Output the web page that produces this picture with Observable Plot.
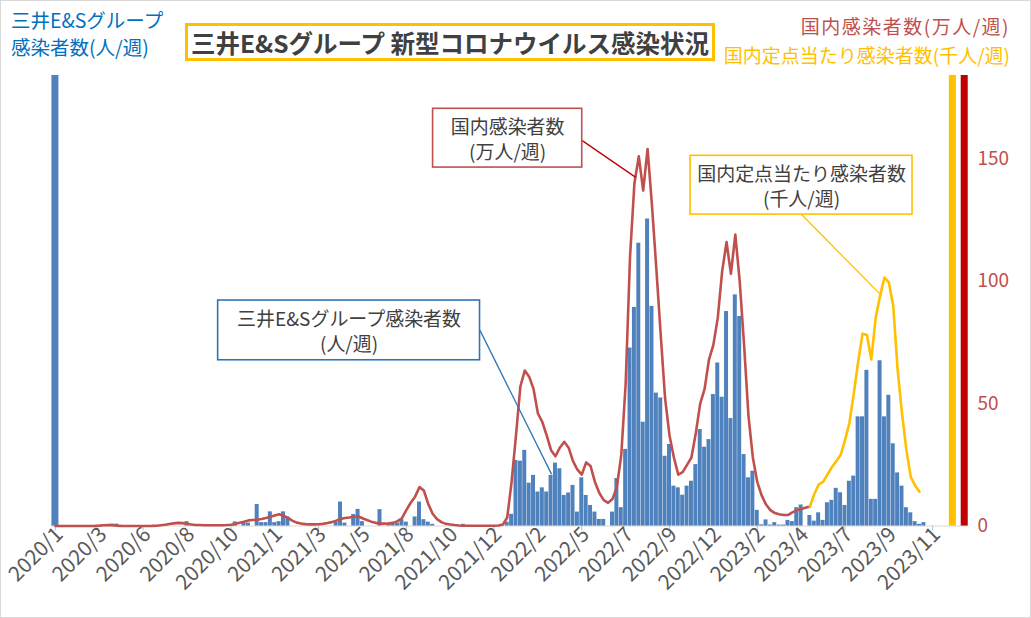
<!DOCTYPE html>
<html>
<head>
<meta charset="utf-8">
<script src="https://cdn.jsdelivr.net/npm/d3@7"></script>
<script src="https://cdn.jsdelivr.net/npm/@observablehq/plot@0.6"></script>
<style>
  html, body { margin: 0; padding: 0; background: #fff; }
  body { font-family: "Noto Sans CJK JP", "Noto Sans", sans-serif; }
  #wrap { position: relative; width: 1031px; height: 618px; box-sizing: border-box; border: 1px solid #d9d9d9; overflow: hidden; background: #fff; }
  #lt { position: absolute; left: 10px; top: 5px; font-size: 19.5px; line-height: 27px; color: #0070c0; white-space: nowrap; }
  #title { position: absolute; left: 184px; top: 22px; width: 530px; height: 38px; box-sizing: border-box; border: 3px solid #ffc000; display: flex; align-items: center; justify-content: center; font-size: 24.5px; font-weight: bold; color: #404040; white-space: nowrap; }
  #rt { position: absolute; right: 20px; top: 10px; font-size: 19px; line-height: 29px; text-align: right; white-space: nowrap; }
  #chart { position: absolute; left: -1px; top: 69px; }
</style>
</head>
<body>
<div id="wrap">
  <div id="lt">三井E&amp;Sグループ<br>感染者数(人/週)</div>
  <div id="title">三井E&amp;Sグループ 新型コロナウイルス感染状況</div>
  <div id="rt"><span style="color:#c0504d;letter-spacing:1.5px">国内感染者数(万人/週)</span><br><span style="color:#ffc000">国内定点当たり感染者数(千人/週)</span></div>
  <div id="chart"></div>
</div>
<script>
// x-axis labels, one every 10 weeks starting at week 0 (2020/1)
const tickLabels = ["2020/1","2020/3","2020/6","2020/8","2020/10","2021/1","2021/3","2021/5","2021/8","2021/10","2021/12","2022/2","2022/5","2022/7","2022/9","2022/12","2023/2","2023/4","2023/7","2023/9","2023/11"];

// 三井E&Sグループ 感染者数 (人/週), weeks 0..198
const mitsuiCases = [
  0,0,0,0,0,0,0,0,0,0,
  0,0,0,0.8,0.8,0,0,0,0,0,
  0,0,0,0,0,0,0,0,0,0,
  1.8,0,0,0,0,0,0,0,0,0,
  0,1.7,0,1.2,1.2,0,8.8,1.4,1.4,5.8,
  1.4,1.8,5.8,3.7,0,0,0,0,0,0,
  0,0,0,0,1.6,9.8,1.2,0,4.7,6.8,
  1.8,0,0,0,6.7,0,0.7,0.7,1.2,2.6,
  1.6,0,3.7,9.8,2.6,1.6,0.7,0,0,0,
  0,0,0,0.7,0,0,0,0,0,0,
  0,0,0,1.6,4.8,26.8,26.5,30.9,17.5,20.7,
  13.9,15.6,13.9,20.7,25.7,23.4,12.5,13.5,16.6,5.7,
  19.7,12.5,8.4,5.7,2.7,2.7,0,5.7,19.4,7.5,
  31.3,72.7,89.3,115.5,42.4,125.4,89.7,54.3,52.3,28.5,
  33.3,16.3,15.6,12.6,16.3,18.3,25.1,39.4,32.2,35.3,
  53.7,66.6,52.6,87.6,43.9,94.4,85.6,29.2,19.7,22.4,
  6.4,0.5,2.5,0.4,1.4,0.4,0.4,2.3,1.8,7.5,
  8.6,0,4.3,2,5.4,2.3,9.5,10.5,15.4,13.6,
  8.4,18.3,20.4,44.6,44.6,63.6,10.9,10.9,67.5,44.6,
  53.4,33.6,21.7,16.3,7.5,5.4,1.8,0.7,1.4
];

// 国内感染者数 (万人/週), weeks 0..172
const nationalCases = [
  0,0,0,0,0,0,0,0,
  0.03,0.07,0.17,0.35,0.4,0.3,0.15,0.07,
  0.03,0.02,0.02,0.02,0.03,0.04,0.07,0.15,
  0.3,0.5,0.8,1.1,1.3,1.2,0.9,0.6,
  0.45,0.4,0.35,0.35,0.35,0.35,0.35,0.4,
  0.5,0.8,1.3,1.8,2.3,2.5,2.6,2.9,
  3.3,3.8,4.3,4.8,4.2,3.3,2.2,1.4,
  1.0,0.8,0.7,0.7,0.75,0.9,1.2,1.6,
  2.2,2.9,3.3,3.5,3.8,4.0,3.2,2.5,
  1.8,1.3,1.0,1.0,1.1,1.3,2.0,3.2,
  6.5,9.5,12.0,15.9,14.5,9.0,5.0,2.8,
  1.6,0.9,0.6,0.4,0.25,0.15,0.12,0.1,
  0.1,0.1,0.1,0.1,0.15,0.25,0.6,3.5,
  18,37,57,63.5,61,56,46,42.5,
  37,31,28.5,32,34.4,32,26.5,23,
  21,26,24.5,18,13.5,10.6,9.5,11,
  16,29,58,110,140,151,137,154,
  131,105,78,52,37,28,21,22,
  25,28,38,50,56,68,74,85,
  104,116,103,119,100,74,45,28,
  18,12.5,8.8,6.5,5.3,4.8,4.5,4.5,
  5.6,6.4,7,7.5,8
];

// 国内定点当たり感染者数 (千人/週), weeks 172..197
const sentinelStartWeek = 172;
const sentinelCases = [8,13,17,18,21,24,26.5,29,35,42,54,67,78.5,78,68,85,94,101.5,99.5,90,64,46,31,20,16.5,14];

// coloured key bars standing for each series' axis (week position, colour)
const keyWeeks = [0, 204.6, 207.3];
const keyColors = ["#4f81bd", "#ffc000", "#c00000"];

// callout annotations: label, box corners and leader target (week, value)
const calloutLabels = ["国内感染者数\n(万人/週)", "三井E&Sグループ感染者数\n(人/週)", "国内定点当たり感染者数\n(千人/週)"];
const calloutColors = ["#c0504d", "#2e75b6", "#ffc000"];
const calloutLineColors = ["#c00000", "#2e75b6", "#ffc000"];
const calloutBoxes = [[86.1, 120.1, 146.4, 170.4], [37.1, 96.8, 67.7, 92.1], [144.8, 195.4, 127.2, 151.2]];
const calloutFrom = [[120.1, 157.4], [96.8, 79.9], [170.1, 127.2]];
const calloutTo = [[132.3, 142.4], [113.1, 21.2], [188.3, 94.2]];

const yMax = 184;

const bars = mitsuiCases.map((v, i) => ({week: i, value: v})).filter(d => d.value > 0);
const nat = nationalCases.map((v, i) => ({week: i, value: v}));
const sent = sentinelCases.map((v, i) => ({week: sentinelStartWeek + i, value: v}));
const keys = keyWeeks.map((w, i) => ({week: w, color: keyColors[i], value: yMax}));
const callouts = calloutLabels.map((t, i) => ({
  text: t, color: calloutColors[i], lineColor: calloutLineColors[i],
  x1: calloutBoxes[i][0], x2: calloutBoxes[i][1], y1: calloutBoxes[i][2], y2: calloutBoxes[i][3],
  fx: calloutFrom[i][0], fy: calloutFrom[i][1], tx: calloutTo[i][0], ty: calloutTo[i][1]
}));

const labelWeeks = tickLabels.map((_, k) => k * 10);
const tickWeeks = labelWeeks.filter((_, k) => k % 2 === 0);

const chart = Plot.plot({
  width: 1031,
  height: 548,
  marginTop: 5,
  marginBottom: 92,
  marginLeft: 51,
  marginRight: 61,
  style: {fontFamily: '"Noto Sans CJK JP", "Noto Sans", sans-serif', background: "transparent", overflow: "visible"},
  x: {type: "linear", domain: [-0.9, 208.4]},
  y: {domain: [0, yMax]},
  marks: [
    Plot.ruleY([0], {stroke: "#d9d9d9", strokeWidth: 1}),
    Plot.axisX({ticks: tickWeeks, tickSize: 5, tickFormat: () => "", stroke: "#bfbfbf"}),
    Plot.axisX({ticks: labelWeeks, tickSize: 0, tickPadding: 5, dx: 4, tickRotate: -45, tickFormat: w => tickLabels[Math.round(w / 10)], fill: "#595959", fontSize: 21, label: null}),
    Plot.axisY({anchor: "right", ticks: [0, 50, 100, 150], tickSize: 0, tickPadding: 8, fill: "#c0504d", fontSize: 19, label: null}),
    Plot.rectY(bars, {x1: d => d.week - 0.5, x2: d => d.week + 0.5, y: "value", fill: "#4f81bd", insetLeft: 0.2, insetRight: 0.2}),
    Plot.rectY(keys, {x1: d => d.week - 0.8, x2: d => d.week + 0.8, y: "value", fill: "color"}),
    Plot.line(nat, {x: "week", y: "value", stroke: "#c0504d", strokeWidth: 2.6}),
    Plot.line(sent, {x: "week", y: "value", stroke: "#ffc000", strokeWidth: 2.6}),
    Plot.link(callouts, {x1: "fx", y1: "fy", x2: "tx", y2: "ty", stroke: "lineColor", strokeWidth: 1.3}),
    Plot.rect(callouts, {x1: "x1", x2: "x2", y1: "y1", y2: "y2", fill: "white", stroke: "color", strokeWidth: 1.6}),
    Plot.text(callouts, {x: d => (d.x1 + d.x2) / 2, y: d => (d.y1 + d.y2) / 2, text: "text", fontSize: 19, lineHeight: 1.35, fill: "#404040"})
  ]
});
document.getElementById("chart").appendChild(chart);
</script>
</body>
</html>
